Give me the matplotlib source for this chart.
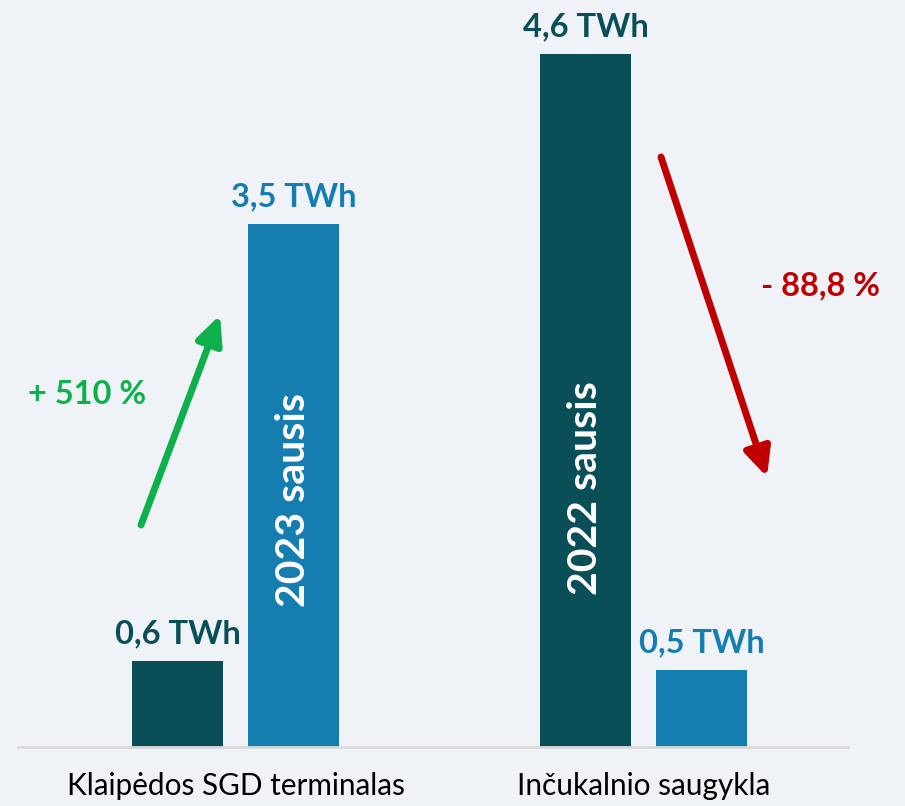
import matplotlib
matplotlib.use("Agg")
import matplotlib.pyplot as plt
import numpy as np

categories = ["Klaipėdos SGD terminalas", "Inčukalnio saugykla"]
series_names = ["2022 sausis", "2023 sausis"]
values_2022 = [0.57, 4.6]
values_2023 = [3.47, 0.51]
labels_2022 = ["0,6 TWh", "4,6 TWh"]
labels_2023 = ["3,5 TWh", "0,5 TWh"]
change_labels = ["+ 510 %", "- 88,8 %"]

BG = "#eff3f7"
DARK = "#0a4f57"
BLUE = "#157db0"
GREEN = "#0db04b"
RED = "#c00000"
FONT = ["Lato", "DejaVu Sans"]

W, H = 905, 806
fig = plt.figure(figsize=(W / 100, H / 100), dpi=100, facecolor=BG)
ax = fig.add_axes([18 / W, 59 / H, 830 / W, 747 / H], facecolor=BG)

x = np.arange(len(categories))
bw = 0.223
off = 0.142
b1 = ax.bar(x - off, values_2022, bw, color=DARK, zorder=2)
b2 = ax.bar(x + off, values_2023, bw, color=BLUE, zorder=2)

ax.set_xlim(-0.533, 1.501)
ax.set_ylim(0, 4.958)
for s in ["top", "right", "left"]:
    ax.spines[s].set_visible(False)
ax.spines["bottom"].set_color("#d9d9d9")
ax.spines["bottom"].set_linewidth(2)
ax.set_yticks([])
ax.set_xticks(x)
ax.set_xticklabels(categories, fontsize=21.4, family=FONT, color="black")
ax.tick_params(axis="x", length=0, pad=18)

# value labels
for rect, lab in zip(b1, labels_2022):
    ax.annotate(lab, (rect.get_x() + rect.get_width() / 2, rect.get_height()),
                xytext=(0, 9), textcoords="offset points", ha="center", va="bottom",
                fontsize=23.5, fontweight="bold", color=DARK, family=FONT)
for rect, lab in zip(b2, labels_2023):
    ax.annotate(lab, (rect.get_x() + rect.get_width() / 2, rect.get_height()),
                xytext=(0, 9), textcoords="offset points", ha="center", va="bottom",
                fontsize=23.5, fontweight="bold", color=BLUE, family=FONT)

# rotated series labels inside the tall bars
ax.text(x[0] + off, 1.64, series_names[1], rotation=90, ha="center", va="center",
        color="white", fontsize=29.5, fontweight="bold", family=FONT, zorder=3)
ax.text(x[1] - off, 1.72, series_names[0], rotation=90, ha="center", va="center",
        color="white", fontsize=29.5, fontweight="bold", family=FONT, zorder=3)

def fx(px):
    return px / W

def fy(py):
    return 1 - py / H

# change arrows
ax.annotate("", xy=(fx(220), fy(315)), xytext=(fx(141), fy(525)),
            xycoords="figure fraction", textcoords="figure fraction",
            arrowprops=dict(arrowstyle="-|>,head_length=1.7,head_width=0.8",
                            lw=5, color=GREEN, shrinkA=0, shrinkB=0))
ax.annotate("", xy=(fx(767), fy(477)), xytext=(fx(661), fy(157)),
            xycoords="figure fraction", textcoords="figure fraction",
            arrowprops=dict(arrowstyle="-|>,head_length=1.7,head_width=0.8",
                            lw=5, color=RED, shrinkA=0, shrinkB=0))

fig.text(fx(87), fy(395), change_labels[0], ha="center", va="center",
         fontsize=23.5, fontweight="bold", color=GREEN, family=FONT)
fig.text(fx(820), fy(286), change_labels[1], ha="center", va="center",
         fontsize=23.5, fontweight="bold", color=RED, family=FONT)

fig.savefig("out.png", dpi=100, facecolor=BG)
